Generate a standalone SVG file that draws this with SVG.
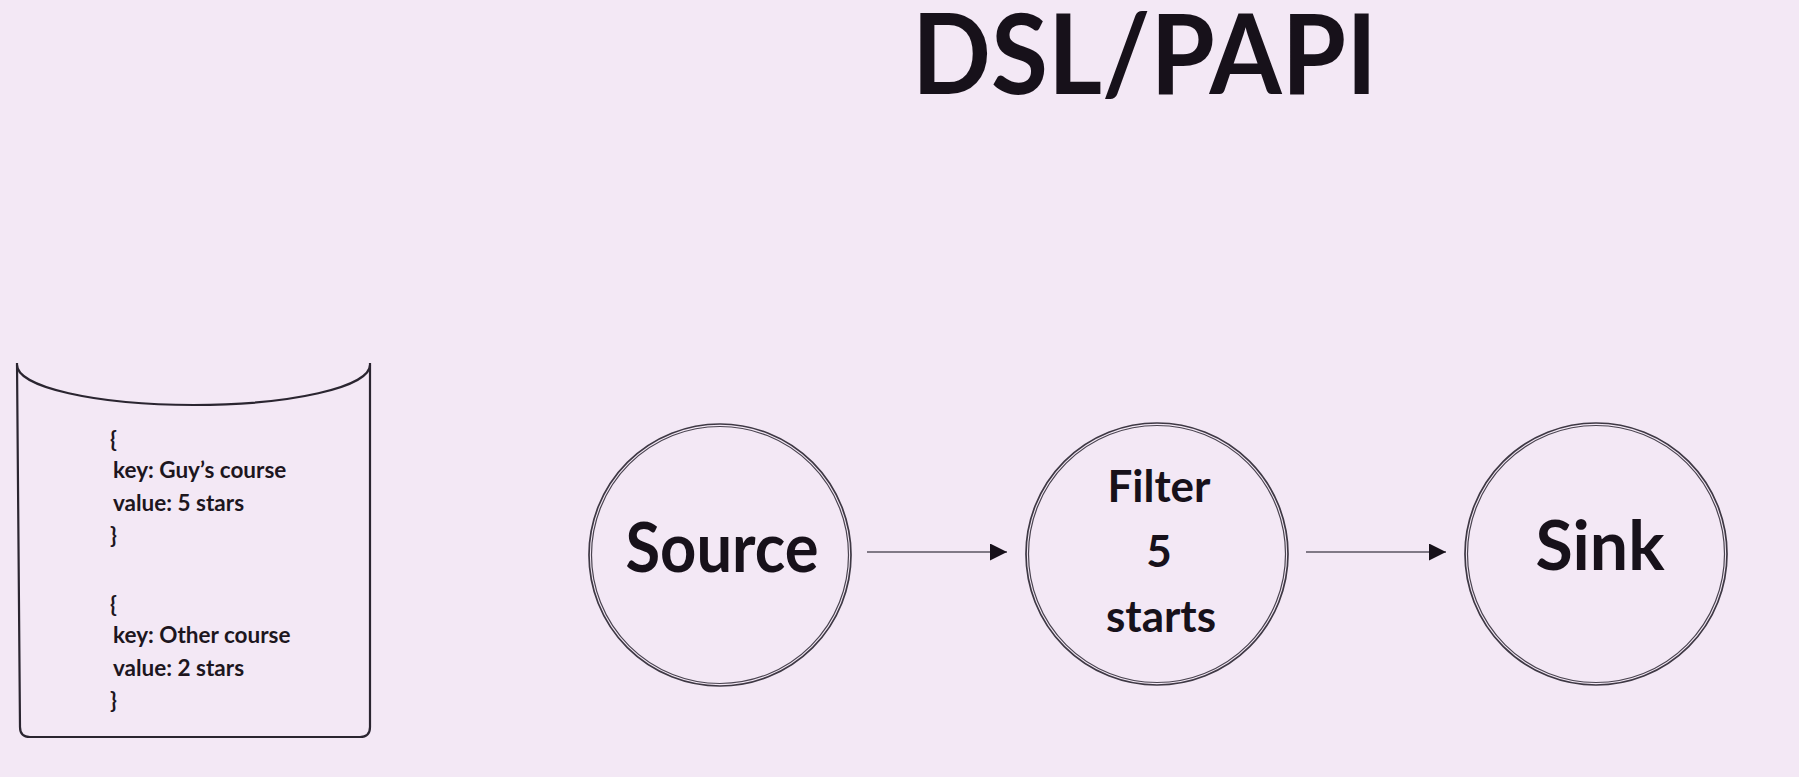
<svg xmlns="http://www.w3.org/2000/svg" width="1799" height="777" viewBox="0 0 1799 777">
  <defs>
    <style>
      .bg { fill: #f3e8f5; }
      .title { font-family: Lato, "Liberation Sans", sans-serif; font-weight: 700; font-size: 112px; fill: #17111a; }
      .big { font-family: Lato, "Liberation Sans", sans-serif; font-weight: 700; font-size: 68px; fill: #17111a; text-anchor: middle; }
      .mid { font-family: Lato, "Liberation Sans", sans-serif; font-weight: 700; font-size: 44px; fill: #17111a; text-anchor: middle; }
      .rec { font-family: Lato, "Liberation Sans", sans-serif; font-weight: 700; font-size: 22.5px; fill: #1d161e; }
      .ring-o { fill: none; stroke: #3e3844; stroke-width: 1.7; }
      .ring-i { fill: none; stroke: #4a4450; stroke-width: 1.2; }
      .db { fill: none; stroke: #2a2530; stroke-width: 2.2; stroke-linejoin: round; }
      .edge { fill: none; stroke: #5a5460; stroke-width: 1.6; }
    </style>
    <marker id="arrow" markerWidth="18" markerHeight="18" refX="17" refY="8.5" orient="auto" markerUnits="userSpaceOnUse">
      <path d="M0,0 L17,8.5 L0,17 Z" fill="#17111a"/>
    </marker>
  </defs>
  <rect class="bg" x="0" y="0" width="1799" height="777"/>

  <g id="title">
    <text class="title" x="912" y="94" textLength="465" lengthAdjust="spacingAndGlyphs">DSL/PAPI</text>
  </g>

  <g id="store">
    <path class="db" d="M17,363 L20,727 Q20,737 30,737 L360,737 Q370,737 370,727 L370,363"/>
    <path class="db" d="M17,365 A176.5,40 0 0 0 370,365"/>
    <text class="rec" x="110" y="447">{</text>
    <text class="rec" x="113" y="478">key: Guy’s course</text>
    <text class="rec" x="113" y="511">value: 5 stars</text>
    <text class="rec" x="110" y="543">}</text>
    <text class="rec" x="110" y="612">{</text>
    <text class="rec" x="113" y="643">key: Other course</text>
    <text class="rec" x="113" y="676">value: 2 stars</text>
    <text class="rec" x="110" y="708">}</text>
  </g>

  <g id="source">
    <circle class="ring-o" cx="720" cy="555" r="131"/>
    <circle class="ring-i" cx="720" cy="555" r="128.5"/>
    <text class="big" x="722" y="572" textLength="193" lengthAdjust="spacingAndGlyphs">Source</text>
  </g>

  <g id="filter">
    <circle class="ring-o" cx="1157" cy="554" r="131"/>
    <circle class="ring-i" cx="1157" cy="554" r="128.5"/>
    <text class="mid" x="1159" y="502">Filter</text>
    <text class="mid" x="1159" y="567">5</text>
    <text class="mid" x="1161" y="632">starts</text>
  </g>

  <g id="sink">
    <circle class="ring-o" cx="1596" cy="554" r="131"/>
    <circle class="ring-i" cx="1596" cy="554" r="128.5"/>
    <text class="big" x="1600" y="570">Sink</text>
  </g>

  <g id="connectors">
    <line class="edge" x1="867" y1="552" x2="1007" y2="552" marker-end="url(#arrow)"/>
    <line class="edge" x1="1306" y1="552" x2="1446" y2="552" marker-end="url(#arrow)"/>
  </g>
</svg>
